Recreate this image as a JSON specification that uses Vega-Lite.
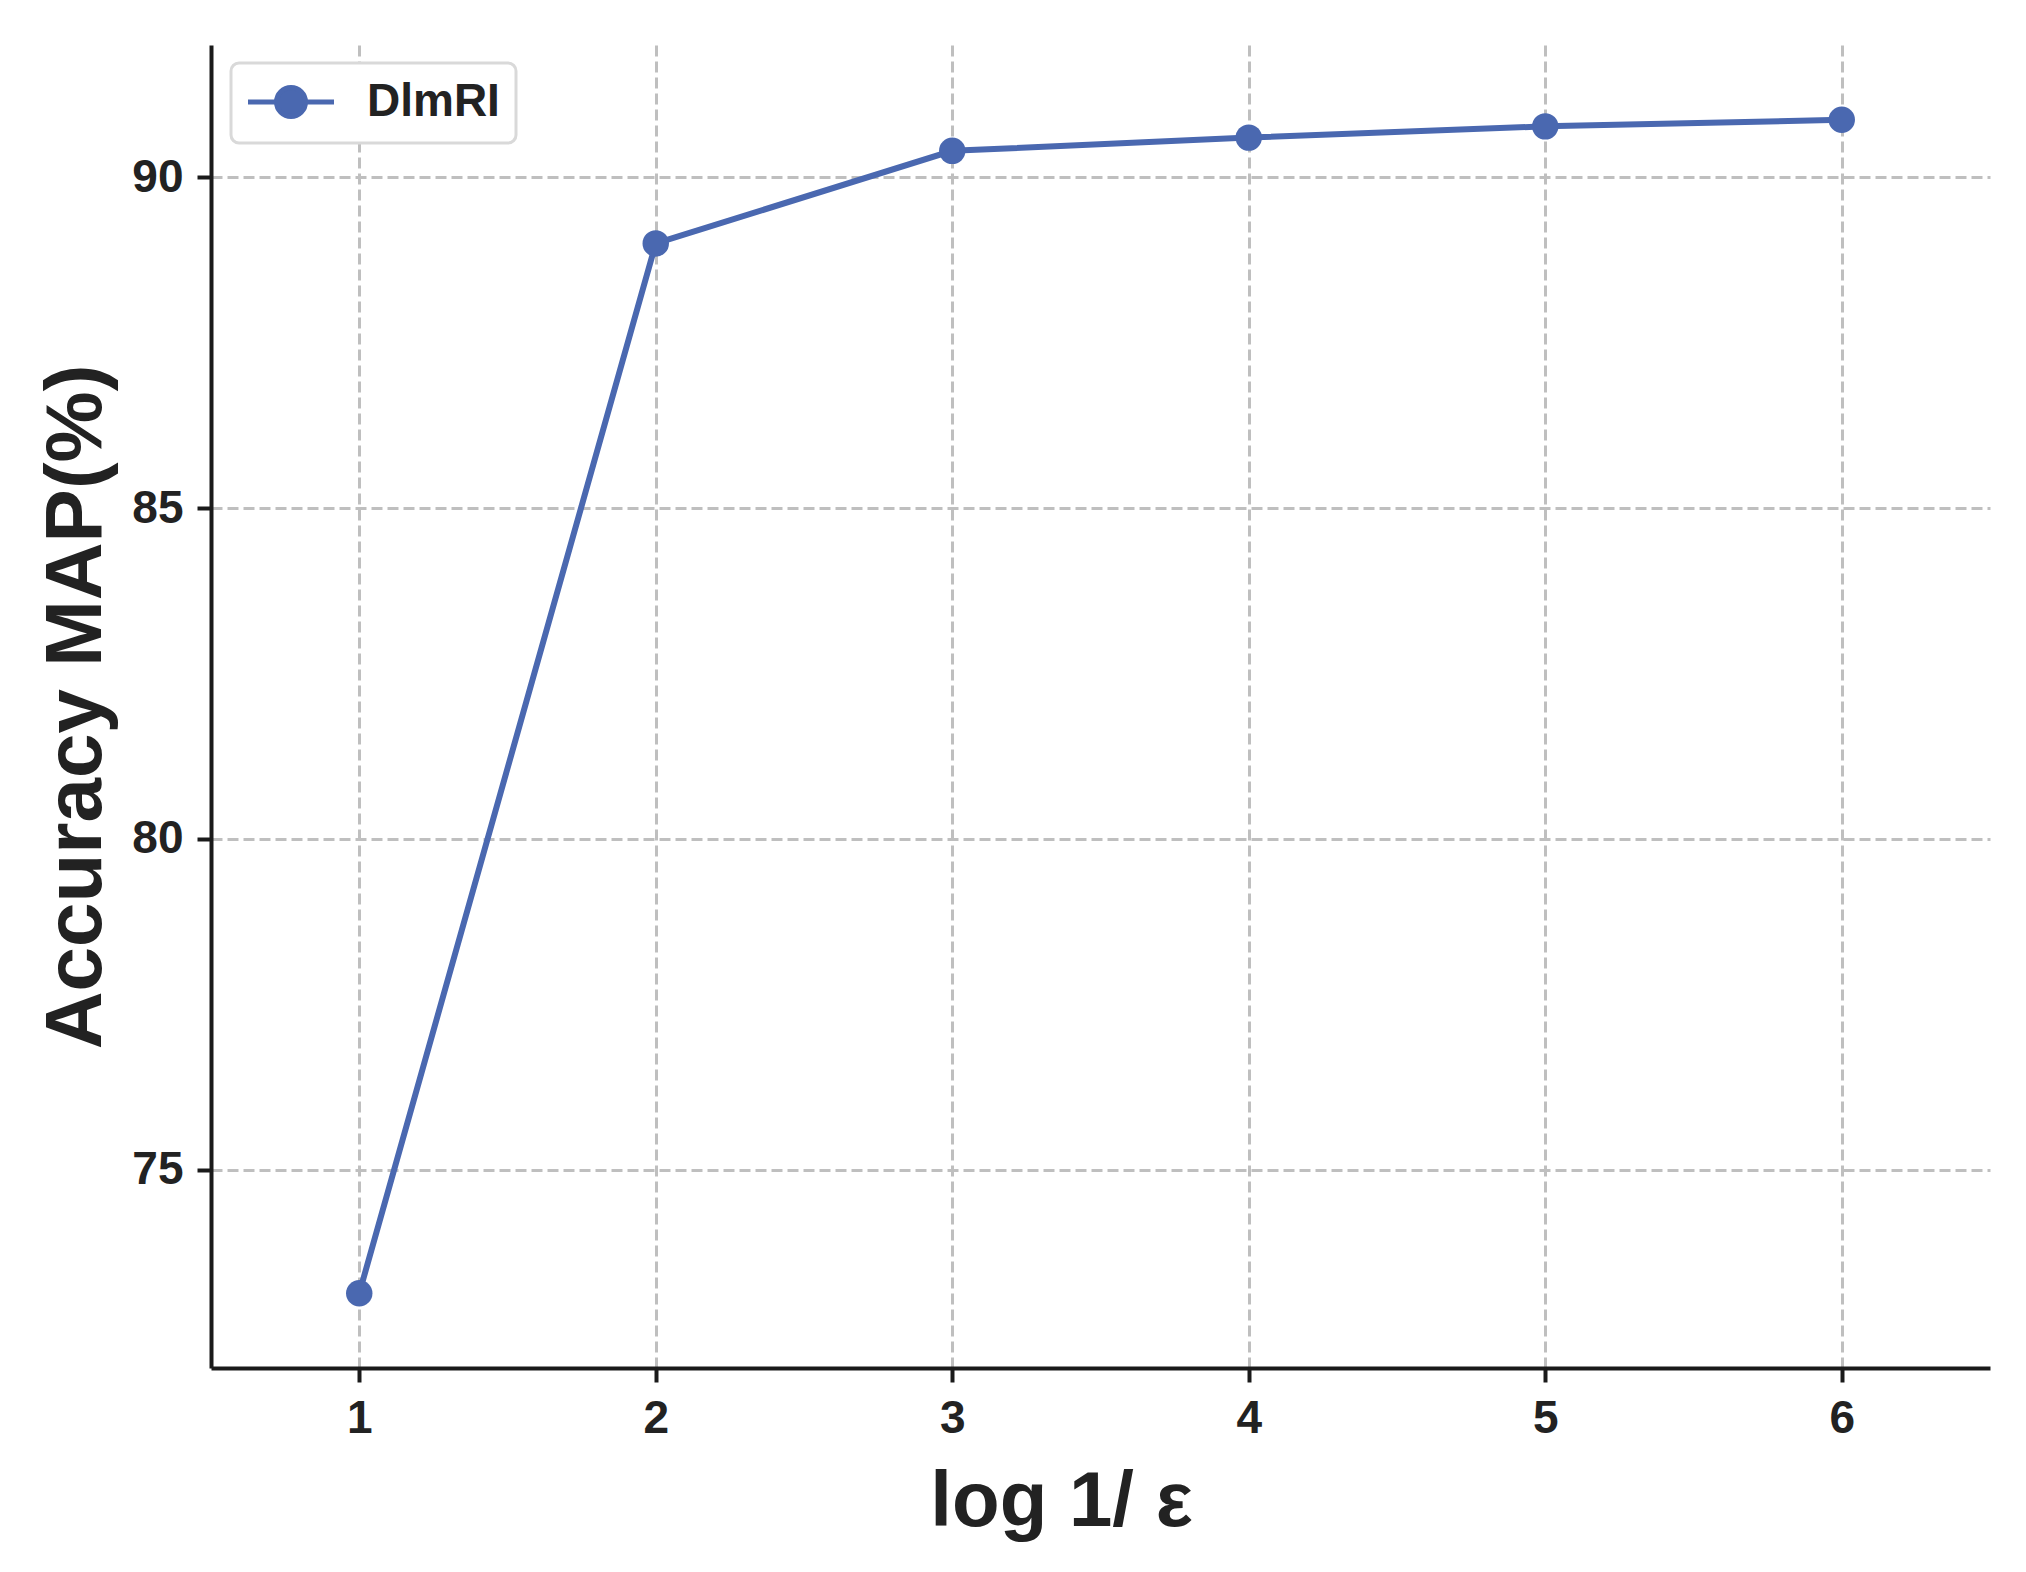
{
  "$schema": "https://vega.github.io/schema/vega-lite/v6.json",
  "width": 1779,
  "height": 1323,
  "autosize": {"type": "none"},
  "padding": {"left": 211, "top": 45, "right": 36, "bottom": 204},
  "background": "white",
  "config": {
    "view": {"stroke": null},
    "font": "Liberation Sans",
    "legend": {"strokeWidth": 3},
    "axis": {
      "labelFont": "Liberation Sans",
      "labelFontWeight": "bold",
      "labelFontSize": 46,
      "labelColor": "#222222",
      "titleFont": "Liberation Sans",
      "titleFontWeight": "bold",
      "titleFontSize": 78,
      "titleColor": "#222222",
      "domainColor": "#1a1a1a",
      "domainWidth": 4,
      "tickColor": "#1a1a1a",
      "tickWidth": 4,
      "tickSize": 14,
      "labelPadding": 14,
      "gridColor": "#bfbfbf",
      "gridWidth": 3,
      "gridDash": [11, 5]
    }
  },
  "data": {
    "values": [
      {"eps": 1, "acc": 73.13, "method": "DlmRI"},
      {"eps": 2, "acc": 89.0, "method": "DlmRI"},
      {"eps": 3, "acc": 90.4, "method": "DlmRI"},
      {"eps": 4, "acc": 90.6, "method": "DlmRI"},
      {"eps": 5, "acc": 90.77, "method": "DlmRI"},
      {"eps": 6, "acc": 90.87, "method": "DlmRI"}
    ]
  },
  "encoding": {
    "x": {
      "field": "eps",
      "type": "quantitative",
      "scale": {"domain": [0.5, 6.5], "nice": false, "zero": false},
      "axis": {"values": [1, 2, 3, 4, 5, 6], "title": "log 1/ ε", "titlePadding": 22, "titleX": 850, "grid": true}
    },
    "y": {
      "field": "acc",
      "type": "quantitative",
      "scale": {"domain": [72, 92], "nice": false, "zero": false},
      "axis": {"values": [75, 80, 85, 90], "title": "Accuracy MAP(%)", "titleFontSize": 80, "titlePadding": 14, "grid": true}
    },
    "color": {
      "field": "method",
      "type": "nominal",
      "scale": {"range": ["#4a68b0"]},
      "legend": {
        "title": null,
        "orient": "none",
        "legendX": 20,
        "legendY": 18,
        "symbolType": "M-1.1,0L3.2,0M0.325,0A0.725,0.725 0 1,1 1.775,0A0.725,0.725 0 1,1 0.325,0Z",
        "symbolSize": 1600,
        "symbolStrokeWidth": 5,
        "symbolFillColor": "#4a68b0",
        "symbolStrokeColor": "#4a68b0",
        "labelFont": "Liberation Sans",
        "labelFontWeight": "bold",
        "labelFontSize": 46,
        "labelColor": "#222222",
        "labelOffset": 74,
        "padding": 16,
        "strokeColor": "#d9d9d9",
        "cornerRadius": 8,
        "fillColor": "white"
      }
    }
  },
  "layer": [
    {"mark": {"type": "line", "strokeWidth": 6}},
    {"mark": {"type": "point", "filled": true, "opacity": 1, "size": 700, "shape": "circle"}}
  ]
}
